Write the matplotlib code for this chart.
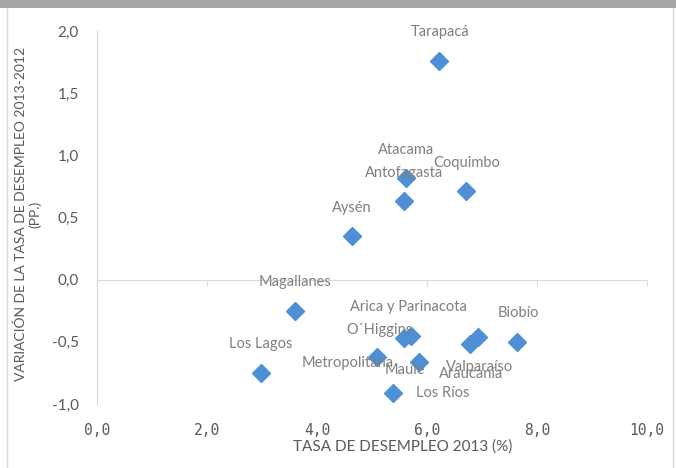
import matplotlib
matplotlib.use("Agg")
import matplotlib.pyplot as plt
from matplotlib.patches import Rectangle
from matplotlib.lines import Line2D

regions = ["Tarapacá", "Atacama", "Antofagasta", "Coquimbo", "Aysén", "Magallanes",
           "Los Lagos", "Metropolitana", "O´Higgins", "Arica y Parinacota", "Maule",
           "Los Ríos", "Araucanía", "Valparaíso", "Biobío"]
tasa_2013 = [6.22, 5.62, 5.58, 6.71, 4.64, 3.60, 2.98, 5.09, 5.58, 5.70, 5.85, 5.38, 6.78, 6.93, 7.64]
variacion = [1.76, 0.82, 0.63, 0.71, 0.35, -0.25, -0.75, -0.62, -0.47, -0.45, -0.66, -0.91, -0.52, -0.46, -0.50]
x_ticks = [0, 2, 4, 6, 8, 10]
y_ticks = [-1.0, -0.5, 0.0, 0.5, 1.0, 1.5, 2.0]

# label offsets in pixels (dx right, dy down) relative to each point
label_offsets = {
    "Tarapacá": (1, -29, "center"), "Atacama": (0, -28, "center"),
    "Antofagasta": (0, -28, "center"), "Coquimbo": (1, -28, "center"),
    "Aysén": (0, -28, "center"), "Magallanes": (0, -29, "center"),
    "Los Lagos": (0, -29, "center"), "Metropolitana": (-29, 6, "center"),
    "O´Higgins": (-24, -8, "center"), "Arica y Parinacota": (-2, -29, "center"),
    "Maule": (-14, 8, "center"), "Los Ríos": (23, 0, "left"),
    "Araucanía": (1, 30, "center"), "Valparaíso": (1, 30, "center"),
    "Biobío": (1, -29, "center"),
}

W, H = 676, 468
fig = plt.figure(figsize=(W / 100, H / 100), dpi=100)
fig.patch.set_facecolor("white")

# frame decorations
fig.patches.append(Rectangle((0, 1 - 8 / H), 1, 8 / H, transform=fig.transFigure,
                             facecolor="#a6a6a6", edgecolor="none"))
fig.lines.append(Line2D([7 / W, 7 / W], [0, 1 - 8 / H], transform=fig.transFigure,
                        color="#d9d9d9", lw=1))
fig.lines.append(Line2D([673 / W, 673 / W], [0, 1 - 8 / H], transform=fig.transFigure,
                        color="#d9d9d9", lw=1))

ax = fig.add_axes([97 / W, (H - 404) / H, 550 / W, 373 / H])
ax.set_xlim(0, 10)
ax.set_ylim(-1, 2)
ax.set_facecolor("none")

ax.plot(tasa_2013, variacion, linestyle="none", marker="D", ms=9,
        color="#4f8fd6", mec="#4f8fd6", zorder=3)

for name, xv, yv in zip(regions, tasa_2013, variacion):
    dx, dy, ha = label_offsets[name]
    ax.annotate(name, (xv, yv), xytext=(dx * 0.72, -dy * 0.72), textcoords="offset points",
                ha=ha, va="center", fontsize=10.5, color="#7f7f7f", family="Lato", zorder=4)

# spines
for s in ["top", "right"]:
    ax.spines[s].set_visible(False)
ax.spines["left"].set_color("#d9d9d9")
ax.spines["bottom"].set_position(("data", 0))
ax.spines["bottom"].set_color("#d9d9d9")

ax.set_xticks(x_ticks)
ax.tick_params(axis="x", direction="out", length=4, color="#d9d9d9", labelbottom=False)
ax.set_yticks(y_ticks)
ax.set_yticklabels([f"{v:.1f}".replace(".", ",") for v in y_ticks])
ax.tick_params(axis="y", length=0, pad=13, labelsize=11, labelcolor="#595959")
for t in ax.get_yticklabels():
    t.set_family("Lato")

sec = ax.secondary_xaxis("bottom")
sec.set_xticks(x_ticks)
sec.set_xticklabels([f"{v:.1f}".replace(".", ",") for v in x_ticks])
sec.tick_params(length=0, pad=14, labelsize=10.5, labelcolor="#595959")
for t in sec.get_xticklabels():
    t.set_family("DejaVu Sans Mono")
for s in sec.spines.values():
    s.set_visible(False)

fig.text(403 / W, (H - 447) / H, "TASA DE DESEMPLEO 2013 (%)", ha="center", va="center",
         fontsize=11, color="#595959", family="Lato")
fig.text(28 / W, (H - 214) / H, "VARIACIÓN DE LA TASA DE DESEMPLEO 2013-2012\n(PP.)",
         ha="center", va="center", rotation=90, multialignment="center",
         fontsize=10, color="#595959", family="Lato", linespacing=1.15)

fig.savefig("out.png", dpi=100)
